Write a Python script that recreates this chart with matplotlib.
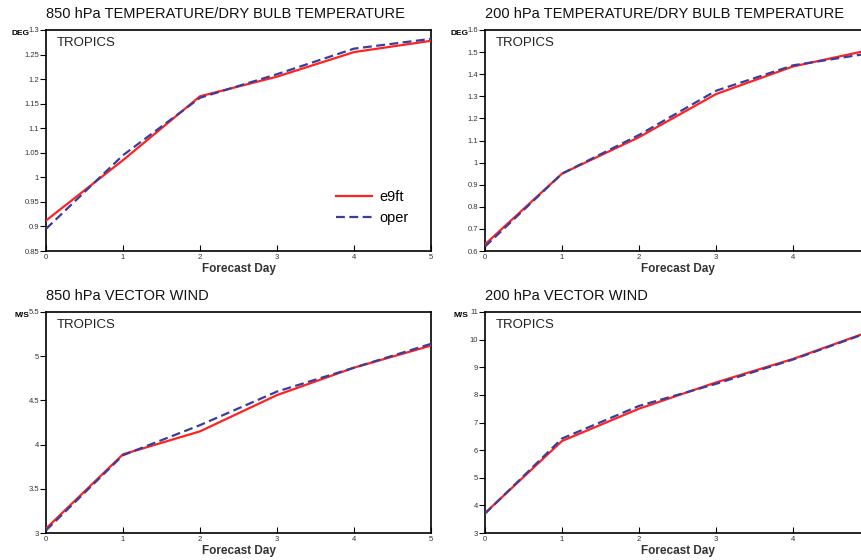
import matplotlib
matplotlib.use("Agg")
import matplotlib.pyplot as plt
import numpy as np

plt.rcParams['font.family'] = ['Liberation Sans', 'DejaVu Sans']

days = [0, 1, 2, 3, 4, 5]

t850_e9ft = [0.912, 1.035, 1.165, 1.205, 1.255, 1.278]
t850_oper = [0.895, 1.045, 1.162, 1.210, 1.262, 1.282]

t200_e9ft = [0.630, 0.950, 1.115, 1.310, 1.435, 1.510]
t200_oper = [0.620, 0.950, 1.125, 1.325, 1.440, 1.495]

w850_e9ft = [3.05, 3.89, 4.15, 4.56, 4.87, 5.12]
w850_oper = [3.03, 3.88, 4.22, 4.60, 4.87, 5.14]

w200_e9ft = [3.72, 6.33, 7.50, 8.45, 9.30, 10.30]
w200_oper = [3.70, 6.42, 7.60, 8.40, 9.28, 10.28]

titles = ["850 hPa TEMPERATURE/DRY BULB TEMPERATURE",
          "200 hPa TEMPERATURE/DRY BULB TEMPERATURE",
          "850 hPa VECTOR WIND",
          "200 hPa VECTOR WIND"]
units = ["DEG", "DEG", "M/S", "M/S"]
yticks_list = [
    [0.85, 0.9, 0.95, 1, 1.05, 1.1, 1.15, 1.2, 1.25, 1.3],
    [0.6, 0.7, 0.8, 0.9, 1, 1.1, 1.2, 1.3, 1.4, 1.5, 1.6],
    [3, 3.5, 4, 4.5, 5, 5.5],
    [3, 4, 5, 6, 7, 8, 9, 10, 11],
]
ytick_labels = [
    ["0.85", "0.9", "0.95", "1", "1.05", "1.1", "1.15", "1.2", "1.25", "1.3"],
    ["0.6", "0.7", "0.8", "0.9", "1", "1.1", "1.2", "1.3", "1.4", "1.5", "1.6"],
    ["3", "3.5", "4", "4.5", "5", "5.5"],
    ["3", "4", "5", "6", "7", "8", "9", "10", "11"],
]
series = [(t850_e9ft, t850_oper), (t200_e9ft, t200_oper),
          (w850_e9ft, w850_oper), (w200_e9ft, w200_oper)]

W, H = 862, 560
fig = plt.figure(figsize=(W / 100, H / 100), dpi=100)

ax_w = 385 / W
ax_h = 221 / H
lefts = [46 / W, 485 / W]
bottoms = [1 - 251 / H, 1 - 533 / H]

red = '#ff2222'
blue = '#3c3c9c'

for i in range(4):
    r, c = divmod(i, 2)
    ax = fig.add_axes([lefts[c], bottoms[r], ax_w, ax_h])
    e9, op = series[i]
    ax.plot(days, e9, color=red, lw=1.6, label='e9ft', zorder=3)
    ax.plot(days, op, color=blue, lw=1.6, ls=(0, (4, 2)), label='oper', zorder=4)
    yt = yticks_list[i]
    ax.set_xlim(0, 5)
    ax.set_ylim(yt[0], yt[-1])
    ax.set_yticks(yt)
    ax.set_yticklabels(ytick_labels[i])
    ax.set_xticks(days)
    xl = [str(d) for d in days]
    if c == 1:
        xl[-1] = ""
    ax.set_xticklabels(xl)
    ax.tick_params(axis='y', direction='out', length=4, width=0.8, labelsize=5.5,
                   pad=1, labelcolor='#333333')
    ax.tick_params(axis='x', direction='in', length=4, width=0.8, labelsize=5.5,
                   pad=2, labelcolor='#333333')
    for s in ax.spines.values():
        s.set_linewidth(1.2)
    ax.set_xlabel("Forecast Day", fontsize=8.5, fontweight='bold', labelpad=1.5,
                  color='#333333')
    ax.text(0.028, 0.968, "TROPICS", transform=ax.transAxes, fontsize=9.5,
            ha='left', va='top', color='#222222')
    ax.text(-0.043, 1.0, units[i], transform=ax.transAxes, fontsize=6,
            fontweight='bold', ha='right', va='top')
    top_px = 30 if r == 0 else 312
    fig.text(lefts[c], 1 - (top_px - 16) / H, titles[i],
             fontsize=10.5, ha='left', va='center', color='#111111')
    if i == 0:
        ax.legend(loc='lower right', bbox_to_anchor=(0.975, 0.06), frameon=False,
                  fontsize=10.5, handlelength=2.5, handletextpad=0.45,
                  labelspacing=0.45)

fig.savefig("out.png", dpi=100)
